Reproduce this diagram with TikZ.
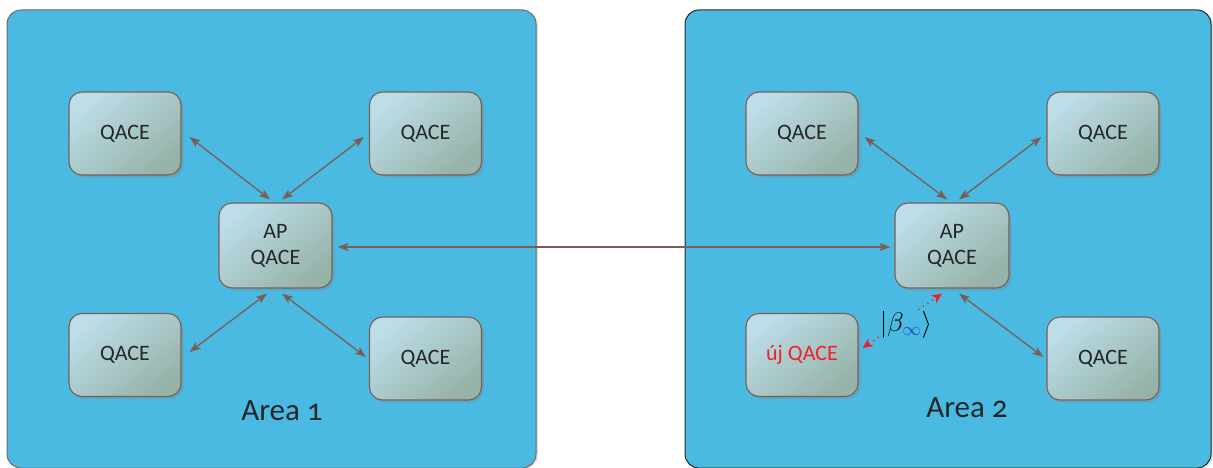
\documentclass[tikz,border=0pt]{standalone}
\usepackage{fontspec}
\setmainfont{Carlito}[Numbers=OldStyle]
\usetikzlibrary{arrows.meta,calc,shadows}

\definecolor{panelblue}{HTML}{4BBAE2}
\definecolor{paneledge}{HTML}{6E6A68}
\definecolor{boxlight}{HTML}{BDDDE8}
\definecolor{boxdark}{HTML}{96B3A9}
\definecolor{boxedge}{HTML}{7C5E55}
\definecolor{linkcol}{HTML}{7A5E55}
\definecolor{txt}{HTML}{262626}
\definecolor{newred}{HTML}{F2202A}
\definecolor{ketblue}{HTML}{1F4FB0}

\tikzset{
  panel/.style={rounded corners=14pt, fill=panelblue, line width=1pt,
    drop shadow={shadow xshift=2pt, shadow yshift=-1pt, opacity=0.25}},
  qace/.style={rectangle, rounded corners=13pt, draw=boxedge, line width=1.1pt,
    top color=boxlight, bottom color=boxdark, shading angle=40,
    minimum width=112pt, minimum height=83pt, align=center,
    font=\fontsize{22}{26}\selectfont, text=txt,
    drop shadow={shadow xshift=2.5pt, shadow yshift=-2.5pt, opacity=0.3}},
  area/.style={font=\fontsize{31}{34}\selectfont, text=txt},
  conn/.style={draw=linkcol, line width=1.3pt,
    {Stealth[length=11pt,width=8pt,inset=2.5pt]}-{Stealth[length=11pt,width=8pt,inset=2.5pt]}},
  redconn/.style={draw=newred, line width=1.2pt, dash pattern=on 1.5pt off 4pt,
    {Stealth[length=10pt,width=9pt,inset=2.5pt]}-{Stealth[length=10pt,width=9pt,inset=2.5pt]}}
}

\begin{document}
\begin{tikzpicture}[x=1pt, y=-1pt]
  \useasboundingbox (0,0) rectangle (1213,468);
  \fill[white] (0,0) rectangle (1213,468);

  % the two areas
  \draw[panel, draw=paneledge] (7,10) rectangle (536,468);
  \draw[panel, draw=black!85] (685,10) rectangle (1211,468);

  % Area 1
  \node[qace] (a1tl) at (125,133.5) {QACE};
  \node[qace] (a1tr) at (425.5,133.5) {QACE};
  \node[qace, minimum width=113pt, minimum height=85pt] (a1ap) at (275.5,245.5) {AP\\QACE};
  \node[qace] (a1bl) at (125,355) {QACE};
  \node[qace] (a1br) at (425.5,358.5) {QACE};
  \node[area] (a1lbl) at (282,411) {Area 1};

  % Area 2
  \node[qace] (a2tl) at (802,133.5) {QACE};
  \node[qace] (a2tr) at (1103,133.5) {QACE};
  \node[qace, minimum width=114pt, minimum height=85pt] (a2ap) at (952,245.5) {AP\\QACE};
  \node[qace, text=newred] (a2new) at (802,355) {új QACE};
  \node[qace] (a2br) at (1103,358.5) {QACE};
  \node[area] (a2lbl) at (967,408) {Area 2};

  % links inside Area 1
  \draw[conn] ($(a1tl.east)+(8,3.5)$) -- ($(a1ap.north)+(-5.5,-3)$);
  \draw[conn] ($(a1tr.west)+(-5,3.5)$) -- ($(a1ap.north)+(6.5,-3)$);
  \draw[conn] ($(a1bl.east)+(8,-3)$) -- ($(a1ap.south)+(-8.5,5)$);
  \draw[conn] ($(a1br.west)+(-3,-1.5)$) -- ($(a1ap.south)+(6.5,5)$);

  % link between the two access points
  \draw[conn] ($(a1ap.east)+(5,1.5)$) -- ($(a2ap.west)+(-4,1.5)$);

  % links inside Area 2
  \draw[conn] ($(a2tl.east)+(6,3.5)$) -- ($(a2ap.north)+(-5,-3)$);
  \draw[conn] ($(a2tr.west)+(-5,3.5)$) -- ($(a2ap.north)+(7,-3)$);
  \draw[conn] ($(a2br.west)+(-3,-1.5)$) -- ($(a2ap.south)+(7,5)$);

  % new node joining with its state
  \draw[redconn] ($(a2new.east)+(4,-7)$) -- ($(a2ap.south)+(-10,5)$);
  \node[fill=panelblue, inner sep=0.5pt] (ket) at (906,325)
    {\scalebox{1.3}{\fontsize{20}{24}\selectfont$\bigg|\beta_{\color{ketblue}\infty}\bigg\rangle$}};
\end{tikzpicture}
\end{document}
